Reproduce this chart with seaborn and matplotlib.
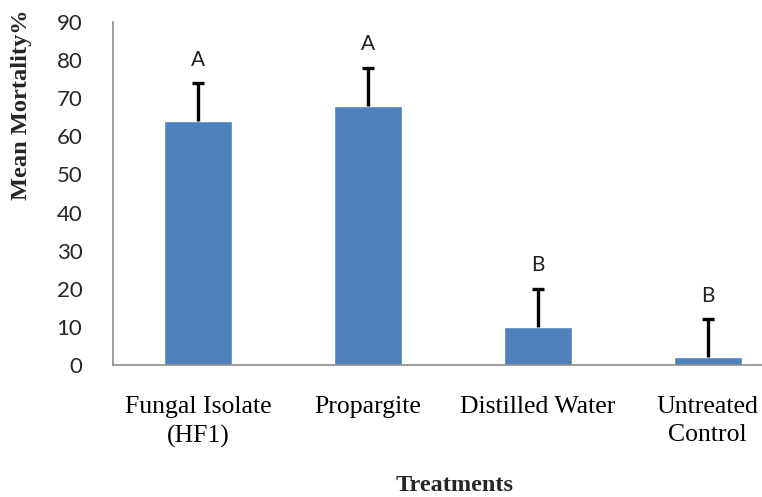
import matplotlib
matplotlib.use("Agg")
import matplotlib.pyplot as plt
import seaborn as sns
import pandas as pd

categories = ["Fungal Isolate\n(HF1)", "Propargite", "Distilled Water", "Untreated\nControl"]
mortality = [64, 68, 10, 2]
errors = [10, 10, 10, 10]
groups = ["A", "A", "B", "B"]
yticks = [0, 10, 20, 30, 40, 50, 60, 70, 80, 90]

sns.set_style("white")
df = pd.DataFrame({"Treatment": categories, "Mortality": mortality})

W, H = 762, 497
fig = plt.figure(figsize=(W / 100, H / 100), dpi=100)
ax = fig.add_axes([113 / W, (H - 365) / H, (W - 113) / W, (365 - 22) / H])

sns.barplot(data=df, x="Treatment", y="Mortality", color="#4F81BD",
            saturation=1, width=0.4, errorbar=None, ax=ax, zorder=2)

# upper-only error bars (no cap at the bar top)
xs = list(range(len(categories)))
_, caps, _ = ax.errorbar(xs, mortality, yerr=[[0] * len(errors), errors], fmt="none",
                         ecolor="black", elinewidth=2.4, capsize=4.5, capthick=2.4,
                         zorder=3)
for cap in caps:
    if list(cap.get_ydata()) == list(mortality):
        cap.set_visible(False)

for x, v, e, g in zip(xs, mortality, errors, groups):
    ax.annotate(g, (x, v + e), xytext=(0, 12.5), textcoords="offset points",
                ha="center", va="baseline", fontsize=15, family="Lato", color="#222222")

ax.set_ylim(0, 90)
ax.set_xlim(-0.5, 3.32)
ax.set_yticks(yticks)
ax.set_yticklabels([str(t) for t in yticks], family="Lato", fontsize=16, color="#262626")
ax.set_xticks(xs)
ax.set_xticklabels(categories, family="Liberation Serif", fontsize=18.5, color="black",
                   linespacing=1.4)
ax.tick_params(axis="y", length=0, pad=22)
ax.tick_params(axis="x", length=0, pad=22)
ax.set_xlabel("")
ax.set_ylabel("")

for s in ["top", "right"]:
    ax.spines[s].set_visible(False)
for s in ["left", "bottom"]:
    ax.spines[s].set_color("#8C8C8C")
    ax.spines[s].set_linewidth(1.2)

fig.text(22 / W, 1 - 105 / H, "Mean Mortality%", rotation=90, ha="center", va="center",
         family="Liberation Serif", fontweight="bold", fontsize=17.6)
fig.text(455 / W, 1 / H, "Treatments", ha="center", va="bottom",
         family="Liberation Serif", fontweight="bold", fontsize=17.5)

fig.savefig("out.png", dpi=100)
